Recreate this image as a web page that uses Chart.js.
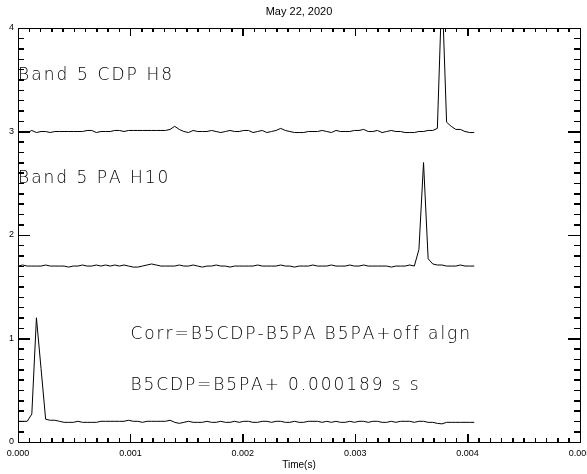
<!DOCTYPE html>
<html>
<head>
<meta charset="utf-8">
<script src="https://cdn.jsdelivr.net/npm/chart.js@4"></script>
<style>
  html, body { margin: 0; padding: 0; background: #fff; overflow: hidden; }
  canvas { display: block; }
</style>
</head>
<body>
<canvas id="plot" width="598" height="474"></canvas>
<script>
// sample times (s)
const sampleTimes = [
  0, 0.000041, 0.000082, 0.000123, 0.000164, 0.000205, 0.000246, 0.000287, 0.000328, 0.000369,
  0.00041, 0.000451, 0.000492, 0.000533, 0.000574, 0.000615, 0.000656, 0.000697, 0.000738, 0.000779,
  0.00082, 0.000861, 0.000902, 0.000943, 0.000984, 0.001025, 0.001066, 0.001107, 0.001148, 0.001189,
  0.00123, 0.001271, 0.001312, 0.001353, 0.001394, 0.001435, 0.001476, 0.001517, 0.001558, 0.001599,
  0.00164, 0.001681, 0.001722, 0.001763, 0.001804, 0.001845, 0.001886, 0.001927, 0.001968, 0.002009,
  0.00205, 0.002091, 0.002132, 0.002173, 0.002214, 0.002255, 0.002296, 0.002337, 0.002378, 0.002419,
  0.00246, 0.002501, 0.002542, 0.002583, 0.002624, 0.002665, 0.002706, 0.002747, 0.002788, 0.002829,
  0.00287, 0.002911, 0.002952, 0.002993, 0.003034, 0.003075, 0.003116, 0.003157, 0.003198, 0.003239,
  0.00328, 0.003321, 0.003362, 0.003403, 0.003444, 0.003485, 0.003526, 0.003567, 0.003608, 0.003649,
  0.00369, 0.003731, 0.003772, 0.003813, 0.003854, 0.003895, 0.003936, 0.003977, 0.004018, 0.004059
];

// Band 5 CDP H8 (offset +3)
const cdpValues = [
  3.00, 3.00, 2.99, 3.01, 2.99, 3.00, 3.00, 2.99, 3.00, 3.00,
  3.00, 3.00, 3.00, 3.00, 3.00, 3.01, 3.01, 2.99, 3.00, 3.00,
  3.00, 3.01, 3.01, 3.00, 3.01, 3.01, 3.01, 3.01, 3.01, 3.01,
  3.01, 3.01, 3.01, 3.02, 3.05, 3.02, 3.00, 2.99, 3.01, 3.00,
  3.00, 3.00, 3.01, 3.00, 2.99, 3.00, 3.01, 3.00, 3.00, 3.01,
  3.01, 2.99, 3.00, 3.01, 2.99, 3.00, 3.01, 3.03, 3.01, 3.00,
  2.99, 2.99, 2.99, 3.00, 3.00, 3.00, 3.01, 3.00, 2.99, 3.01,
  3.00, 3.00, 3.00, 3.01, 3.01, 3.02, 3.00, 3.00, 3.01, 2.99,
  3.00, 3.01, 3.00, 3.00, 2.99, 2.99, 2.99, 3.00, 3.00, 3.01,
  3.01, 3.03, 4.40, 3.09, 3.05, 3.02, 3.02, 3.00, 2.99, 2.99
];

// Band 5 PA H10 (offset +1.7)
const paValues = [
  1.70, 1.71, 1.70, 1.70, 1.70, 1.70, 1.71, 1.70, 1.70, 1.70,
  1.70, 1.69, 1.70, 1.70, 1.71, 1.70, 1.70, 1.71, 1.70, 1.71,
  1.70, 1.71, 1.70, 1.71, 1.70, 1.69, 1.69, 1.70, 1.71, 1.72,
  1.71, 1.70, 1.70, 1.70, 1.70, 1.71, 1.70, 1.70, 1.71, 1.70,
  1.69, 1.70, 1.70, 1.71, 1.70, 1.70, 1.69, 1.70, 1.70, 1.70,
  1.70, 1.70, 1.71, 1.70, 1.70, 1.70, 1.70, 1.71, 1.70, 1.70,
  1.69, 1.70, 1.70, 1.70, 1.71, 1.70, 1.70, 1.70, 1.71, 1.70,
  1.70, 1.70, 1.71, 1.70, 1.70, 1.71, 1.70, 1.70, 1.70, 1.70,
  1.70, 1.69, 1.70, 1.70, 1.70, 1.71, 1.70, 1.86, 2.70, 1.77,
  1.72, 1.71, 1.71, 1.70, 1.70, 1.70, 1.71, 1.70, 1.70, 1.70
];

// correlation trace
const corrValues = [
  0.20, 0.20, 0.20, 0.27, 1.20, 0.71, 0.22, 0.21, 0.21, 0.20,
  0.19, 0.19, 0.19, 0.20, 0.19, 0.19, 0.19, 0.19, 0.20, 0.20,
  0.20, 0.20, 0.20, 0.20, 0.21, 0.20, 0.20, 0.19, 0.20, 0.20,
  0.20, 0.20, 0.20, 0.21, 0.19, 0.18, 0.19, 0.20, 0.19, 0.19,
  0.19, 0.20, 0.19, 0.19, 0.20, 0.19, 0.19, 0.20, 0.19, 0.20,
  0.20, 0.19, 0.19, 0.20, 0.20, 0.19, 0.20, 0.20, 0.19, 0.19,
  0.20, 0.19, 0.19, 0.20, 0.20, 0.20, 0.19, 0.20, 0.19, 0.20,
  0.19, 0.19, 0.20, 0.19, 0.20, 0.20, 0.19, 0.20, 0.20, 0.19,
  0.19, 0.20, 0.19, 0.20, 0.20, 0.20, 0.19, 0.20, 0.20, 0.19,
  0.19, 0.18, 0.175, 0.19, 0.19, 0.19, 0.19, 0.19, 0.19, 0.19
];

// axes
const xRange = [0, 0.005];
const yRange = [0, 4];
const xMajorStep = 0.001, xMinorStep = 0.0001;
const yMajorStep = 1, yMinorStep = 0.1;

// annotations (data coords)
const noteTexts = ['Band 5 CDP H8', 'Band 5 PA H10', 'Corr=B5CDP-B5PA B5PA+off algn', 'B5CDP=B5PA+ 0.000189 s s'];
const noteX = [0, 0, 0.001, 0.001];
const noteY = [3.5, 2.5, 1.0, 0.5];
const noteSpacing = [2.1, 2.0, 1.95, 1.9];

const INK = '#000';
const tickFont = { family: 'Liberation Sans', size: 9 };

function lineSet(vals) {
  return {
    data: vals.map((v, i) => ({ x: sampleTimes[i], y: v })),
    borderColor: INK,
    borderWidth: 1,
    pointRadius: 0,
    tension: 0,
    fill: false
  };
}

// one side of the box: border line and (optionally) labels
function boxAxis(axis, position, step, weight, size, labelled) {
  const range = axis === 'x' ? xRange : yRange;
  return {
    type: 'linear',
    axis: axis,
    position: position,
    min: range[0],
    max: range[1],
    weight: weight,
    ticks: {
      display: labelled,
      stepSize: step,
      autoSkip: false,
      maxRotation: 0,
      color: INK,
      font: tickFont,
      padding: axis === 'x' ? 6 : 4,
      callback: v => axis === 'x' ? v.toFixed(3) : String(v)
    },
    grid: { display: false, drawTicks: false, drawOnChartArea: false },
    border: { display: true, color: INK, width: 1 },
    afterFit: s => {
      if (axis === 'x') s.height = size; else s.width = size;
    }
  };
}

// tick-only axis pinned to one edge of the box; its ticks point into the plot
function tickAxis(axis, at, step, len) {
  const range = axis === 'x' ? xRange : yRange;
  return {
    type: 'linear',
    axis: axis,
    position: at,
    min: range[0],
    max: range[1],
    ticks: { display: false, stepSize: step, autoSkip: false },
    grid: { display: true, drawOnChartArea: false, drawTicks: true, tickLength: len, color: INK, tickColor: INK, lineWidth: 1, tickWidth: 1 },
    border: { display: false }
  };
}

const xBottom = boxAxis('x', 'bottom', xMajorStep, 1, 32, true);
xBottom.title = {
  display: true,
  text: 'Time(s)',
  color: INK,
  font: { family: 'Liberation Sans', size: 10 },
  padding: { top: 0, bottom: 3 }
};

// edge each tick axis sits on, and how far its marks reach in
const tickAxes = {
  tBottom: tickAxis('x', { y: yRange[0] }, xMajorStep, -8),
  tBottomMinor: tickAxis('x', { y: yRange[0] }, xMinorStep, -4),
  tTop: tickAxis('x', { y: yRange[1] }, xMajorStep, 8),
  tTopMinor: tickAxis('x', { y: yRange[1] }, xMinorStep, 4),
  tLeft: tickAxis('y', { x: xRange[0] }, yMajorStep, -12),
  tLeftMinor: tickAxis('y', { x: xRange[0] }, yMinorStep, -6),
  tRight: tickAxis('y', { x: xRange[1] }, yMajorStep, 12),
  tRightMinor: tickAxis('y', { x: xRange[1] }, yMinorStep, 6)
};

// same marks again on top of everything, from each tick axis' ticks
function drawInwardTicks(chart) {
  const ctx = chart.ctx;
  const area = chart.chartArea;
  ctx.save();
  ctx.strokeStyle = INK;
  ctx.lineWidth = 1;
  ctx.beginPath();
  Object.keys(tickAxes).forEach(id => {
    const s = chart.scales[id];
    if (!s) return;
    const len = Math.abs(tickAxes[id].grid.tickLength);
    const at = tickAxes[id].position;
    s.ticks.forEach(t => {
      const p = Math.round(s.getPixelForValue(t.value)) + 0.5;
      if (s.axis === 'x') {
        if (at.y === yRange[0]) { ctx.moveTo(p, area.bottom); ctx.lineTo(p, area.bottom - len); }
        else { ctx.moveTo(p, area.top); ctx.lineTo(p, area.top + len); }
      } else {
        if (at.x === xRange[0]) { ctx.moveTo(area.left, p); ctx.lineTo(area.left + len, p); }
        else { ctx.moveTo(area.right, p); ctx.lineTo(area.right - len, p); }
      }
    });
  });
  ctx.stroke();
  ctx.restore();
}

// annotation text, spaced out glyph by glyph like the vector font
function drawNotes(chart) {
  const ctx = chart.ctx;
  const xs = chart.scales.x, ys = chart.scales.y;
  ctx.save();
  ctx.fillStyle = INK;
  ctx.font = '200 17px "DejaVu Sans"';
  ctx.textAlign = 'left';
  ctx.textBaseline = 'alphabetic';
  noteTexts.forEach((t, i) => {
    let px = xs.getPixelForValue(noteX[i]);
    const py = ys.getPixelForValue(noteY[i]);
    for (const ch of t) {
      ctx.fillText(ch, px, py);
      px += ctx.measureText(ch).width + noteSpacing[i];
    }
  });
  ctx.restore();
}

const idlBox = {
  id: 'idlBox',
  afterDraw(chart) {
    drawNotes(chart);
    drawInwardTicks(chart);
  }
};

new Chart(document.getElementById('plot'), {
  type: 'line',
  data: {
    datasets: [lineSet(cdpValues), lineSet(paValues), lineSet(corrValues)]
  },
  options: {
    responsive: false,
    animation: false,
    layout: { padding: { top: 0, left: 0, right: 18, bottom: 0 } },
    plugins: {
      legend: { display: false },
      tooltip: { enabled: false },
      title: {
        display: true,
        text: 'May 22, 2020',
        fullSize: false,
        color: INK,
        font: { family: 'Liberation Sans', size: 11, weight: 'normal', lineHeight: 1.2 },
        padding: { top: 5, bottom: 9.8 }
      }
    },
    scales: Object.assign({
      x: xBottom,
      xTop: boxAxis('x', 'top', xMajorStep, 1, 0, false),
      y: boxAxis('y', 'left', yMajorStep, 1, 18, true),
      yRight: boxAxis('y', 'right', yMajorStep, 1, 0, false)
    }, tickAxes)
  },
  plugins: [idlBox]
});
</script>
</body>
</html>
